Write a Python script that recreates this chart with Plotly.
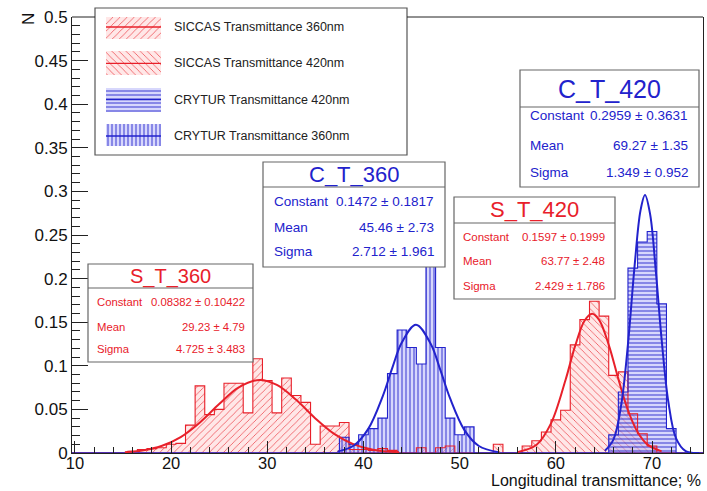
import plotly.graph_objects as go

# ---------------- data ----------------
# bin centres (bin width = 1) and normalised entries
s360_x = [16, 17, 18, 19, 20, 21, 22, 23, 24, 25, 26, 27, 28, 29, 30, 31, 32, 33, 34,
          35, 36, 37, 38, 39, 40, 41, 42, 43, 46, 48, 49]
s360_y = [0.002, 0.004, 0.005, 0.006, 0.010, 0.011, 0.032, 0.077, 0.044, 0.050, 0.080,
          0.080, 0.046, 0.108, 0.083, 0.046, 0.086, 0.066, 0.058, 0.010, 0.031, 0.031,
          0.035, 0.004, 0.004, 0.003, 0.005, 0.003, 0.006, 0.006, 0.008]

s420_x = [54, 57, 58, 59, 60, 61, 62, 63, 64, 65, 66, 67, 68, 69, 70]
s420_y = [0.010, 0.008, 0.014, 0.024, 0.038, 0.049, 0.124, 0.153, 0.174, 0.157, 0.089,
          0.093, 0.045, 0.022, 0.008]

c420_x = [66, 67, 68, 69, 70, 71, 72]
c420_y = [0.021, 0.070, 0.212, 0.242, 0.254, 0.171, 0.028]

c360_x = [38, 39, 40, 41, 42, 43, 44, 45, 46, 47, 48, 49, 50, 51]
c360_y = [0.018, 0.010, 0.021, 0.028, 0.040, 0.091, 0.141, 0.121, 0.102, 0.230, 0.121,
          0.040, 0.021, 0.030]

# fitted gaussian curves
s360_fx = [15.2, 17, 19, 21, 23, 25, 27, 29.2, 31, 33, 35, 37, 39, 41, 43.7]
s360_fy = [0.001, 0.0029, 0.008, 0.0183, 0.0351, 0.0561, 0.075, 0.0838, 0.078, 0.061,
           0.0397, 0.0216, 0.0099, 0.0038, 0.0008]
c360_fx = [37.3, 39, 40.5, 42, 43, 44, 45.46, 47, 48, 49, 50.5, 52, 54]
c360_fy = [0.0016, 0.0086, 0.0277, 0.065, 0.0976, 0.127, 0.1472, 0.125, 0.095, 0.0628,
           0.0262, 0.008, 0.001]
s420_fx = [56, 58, 59.5, 61, 62, 63, 63.77, 64.5, 65.5, 66.5, 67.5, 68.5, 69.5, 71]
s420_fy = [0.001, 0.0095, 0.034, 0.0834, 0.1225, 0.152, 0.1597, 0.1527, 0.124, 0.085,
           0.049, 0.024, 0.0099, 0.0019]
c420_fx = [65.1, 66, 66.8, 67.5, 68.2, 68.8, 69.27, 69.8, 70.4, 71, 71.7, 72.5, 73.5, 74.9]
c420_fy = [0.0025, 0.0157, 0.0554, 0.125, 0.216, 0.278, 0.2959, 0.274, 0.208, 0.130,
           0.0585, 0.0168, 0.0022, 0.0001]

legend_labels = ["SICCAS Transmittance 360nm", "SICCAS Transmittance 420nm",
                 "CRYTUR Transmittance 420nm", "CRYTUR Transmittance 360nm"]

stat_titles = ["S_T_360", "C_T_360", "S_T_420", "C_T_420"]
stat_names = ["Constant", "Mean", "Sigma"]
stat_values = [
    ["0.08382 \u00b1 0.10422", "29.23 \u00b1 4.79", "4.725 \u00b1 3.483"],
    ["0.1472 \u00b1 0.1817", "45.46 \u00b1 2.73", "2.712 \u00b1 1.961"],
    ["0.1597 \u00b1 0.1999", "63.77 \u00b1 2.48", "2.429 \u00b1 1.786"],
    ["0.2959 \u00b1 0.3631", "69.27 \u00b1 1.35", "1.349 \u00b1 0.952"],
]

# ---------------- styling / geometry ----------------
FONT = "Liberation Sans, Arial, Helvetica, sans-serif"
RED = "#e8202a"
BLUE = "#2222cc"
RED_BG = "rgba(255,185,185,0.35)"
BLUE_BG = "rgba(175,175,250,0.5)"
W, H = 707, 491
ML, MR, MT, MB = 72, 4, 17, 38
PW, PH = W - ML - MR, H - MT - MB


def px(x):
    return (x - ML) / PW


def py(y):
    return (H - MB - y) / PH


def outline(centers, values, lo=10, hi=75):
    full = {c: 0.0 for c in range(lo, hi + 1)}
    for c, v in zip(centers, values):
        full[c] = v
    xs, ys = [], []
    for c in range(lo, hi + 1):
        xs += [c - 0.5, c + 0.5]
        ys += [full[c], full[c]]
    return xs, ys


styles = [
    (RED, "/", RED_BG, 5, 0.12),
    (RED, "\\", RED_BG, 5, 0.12),
    (BLUE, "-", BLUE_BG, 4, 0.22),
    (BLUE, "|", BLUE_BG, 4, 0.22),
]
hists = [(s360_x, s360_y), (s420_x, s420_y), (c420_x, c420_y), (c360_x, c360_y)]

fig = go.Figure()
for (hx, hy), (col, shp, bg, sz, sol) in zip(hists, styles):
    fig.add_bar(x=hx, y=hy, width=1,
                marker=dict(color=col, line_width=0,
                            pattern=dict(shape=shp, fgcolor=col, bgcolor=bg, size=sz,
                                         solidity=sol, fillmode="replace")),
                showlegend=False, hoverinfo="skip")
for (hx, hy), st in zip(hists, styles):
    ox, oy = outline(hx, hy)
    fig.add_scatter(x=ox, y=oy, mode="lines", line=dict(color=st[0], width=1.1),
                    showlegend=False, hoverinfo="skip")

for fx, fy, col in [(s360_fx, s360_fy, RED), (c360_fx, c360_fy, BLUE),
                    (s420_fx, s420_fy, RED), (c420_fx, c420_fy, BLUE)]:
    fig.add_scatter(x=fx, y=fy, mode="lines", line=dict(color=col, width=2, shape="spline"),
                    showlegend=False, hoverinfo="skip")

# legend swatches on a small auxiliary axis pair
for i, (col, shp, bg, sz, sol) in enumerate(styles):
    fig.add_bar(x=[1], y=[i], orientation="h", width=0.66, base=0,
                marker=dict(color=col, line_width=0,
                            pattern=dict(shape=shp, fgcolor=col, bgcolor=bg, size=sz,
                                         solidity=sol, fillmode="replace")),
                xaxis="x2", yaxis="y2", showlegend=False, hoverinfo="skip")
    fig.add_scatter(x=[0, 1], y=[i, i], mode="lines", line=dict(color=col, width=1.3),
                    xaxis="x2", yaxis="y2", showlegend=False, hoverinfo="skip")

shapes = []
annotations = []

# top frame segments (legend box covers the middle part)
for a, b in [(72, 95), (407, 703)]:
    shapes.append(dict(type="line", xref="paper", yref="paper", x0=px(a), x1=px(b),
                       y0=1, y1=1, line=dict(color="#222", width=1)))

# legend box
shapes.append(dict(type="rect", xref="paper", yref="paper", x0=px(95), x1=px(407),
                   y0=py(155), y1=py(8), fillcolor="white",
                   line=dict(color="#555", width=1.2), layer="below"))
for i, lab in enumerate(legend_labels):
    yc = [27, 63, 100, 136][i]
    annotations.append(dict(text=lab, xref="paper", yref="paper", x=px(172), y=py(yc),
                            xanchor="left", yanchor="middle", showarrow=False,
                            font=dict(family=FONT, size=12.5, color="#222")))

# stat boxes
boxes = [
    # x0, y0, x1, y1, sep, title_y, title_size, rows_y, lab_x, val_x, font, color
    (88, 264, 253, 362, 288, 276, 20, [302, 327, 349], 95, 247, 11.3, RED),
    (263, 162, 445, 267, 187, 174.5, 22, [201, 227, 252], 272, 436, 13.5, BLUE),
    (454, 197, 615, 299, 223, 210, 22, [237, 261, 286], 461, 607, 11.5, RED),
    (520, 70, 699, 187, 107, 88.5, 25, [115, 145, 173], 528, 690, 13.5, BLUE),
]
for k, (x0, y0, x1, y1, sep, ty, tsz, rows, lx, vx, fsz, col) in enumerate(boxes):
    shapes.append(dict(type="rect", xref="paper", yref="paper", x0=px(x0), x1=px(x1),
                       y0=py(y1), y1=py(y0), fillcolor="white",
                       line=dict(color="#666", width=1.2), layer="above"))
    shapes.append(dict(type="line", xref="paper", yref="paper", x0=px(x0), x1=px(x1),
                       y0=py(sep), y1=py(sep), line=dict(color="#666", width=1.2),
                       layer="above"))
    annotations.append(dict(text=stat_titles[k], xref="paper", yref="paper",
                            x=px((x0 + x1) / 2), y=py(ty), xanchor="center",
                            yanchor="middle", showarrow=False,
                            font=dict(family=FONT, size=tsz, color=col)))
    for j in range(3):
        annotations.append(dict(text=stat_names[j], xref="paper", yref="paper",
                                x=px(lx), y=py(rows[j]), xanchor="left", yanchor="middle",
                                showarrow=False, font=dict(family=FONT, size=fsz, color=col)))
        annotations.append(dict(text=stat_values[k][j], xref="paper", yref="paper",
                                x=px(vx), y=py(rows[j]), xanchor="right", yanchor="middle",
                                showarrow=False, font=dict(family=FONT, size=fsz, color=col)))

# axis titles
annotations.append(dict(text="Longitudinal transmittance; %", xref="paper", yref="paper",
                        x=1.0, y=py(480.5), xanchor="right", yanchor="middle",
                        showarrow=False, font=dict(family=FONT, size=16, color="#111")))
annotations.append(dict(text="N", xref="paper", yref="paper", x=px(29), y=py(19),
                        xanchor="center", yanchor="middle", textangle=-90,
                        showarrow=False, font=dict(family=FONT, size=17, color="#111")))

fig.update_layout(
    width=W, height=H,
    margin=dict(l=ML, r=MR, t=MT, b=MB, pad=0),
    paper_bgcolor="white", plot_bgcolor="white",
    barmode="overlay", bargap=0,
    showlegend=False,
    xaxis=dict(range=[9.7, 75.3], tick0=10, dtick=10, ticks="inside", ticklen=12,
               tickcolor="#222", showline=True, linecolor="#222", linewidth=1,
               mirror=False, showgrid=False, zeroline=False, ticklabelstandoff=-5,
               minor=dict(ticks="inside", dtick=2, tick0=10, ticklen=6, tickcolor="#222",
                          showgrid=False),
               tickfont=dict(family=FONT, size=16.5, color="#111")),
    yaxis=dict(range=[0, 0.5], tick0=0, dtick=0.05, ticks="inside", ticklen=16,
               tickcolor="#222", showline=True, linecolor="#222", linewidth=1,
               mirror=True, showgrid=False, zeroline=False,
               minor=dict(ticks="inside", dtick=0.01, ticklen=8, tickcolor="#222",
                          showgrid=False),
               tickfont=dict(family=FONT, size=17, color="#111")),
    xaxis2=dict(domain=[px(106), px(161)], range=[0, 1], visible=False, anchor="y2",
                fixedrange=True),
    yaxis2=dict(domain=[py(146), 1.0], range=[3.275, -0.275], visible=False, anchor="x2",
                fixedrange=True),
    shapes=shapes,
    annotations=annotations,
)

fig.write_html("out.html")
